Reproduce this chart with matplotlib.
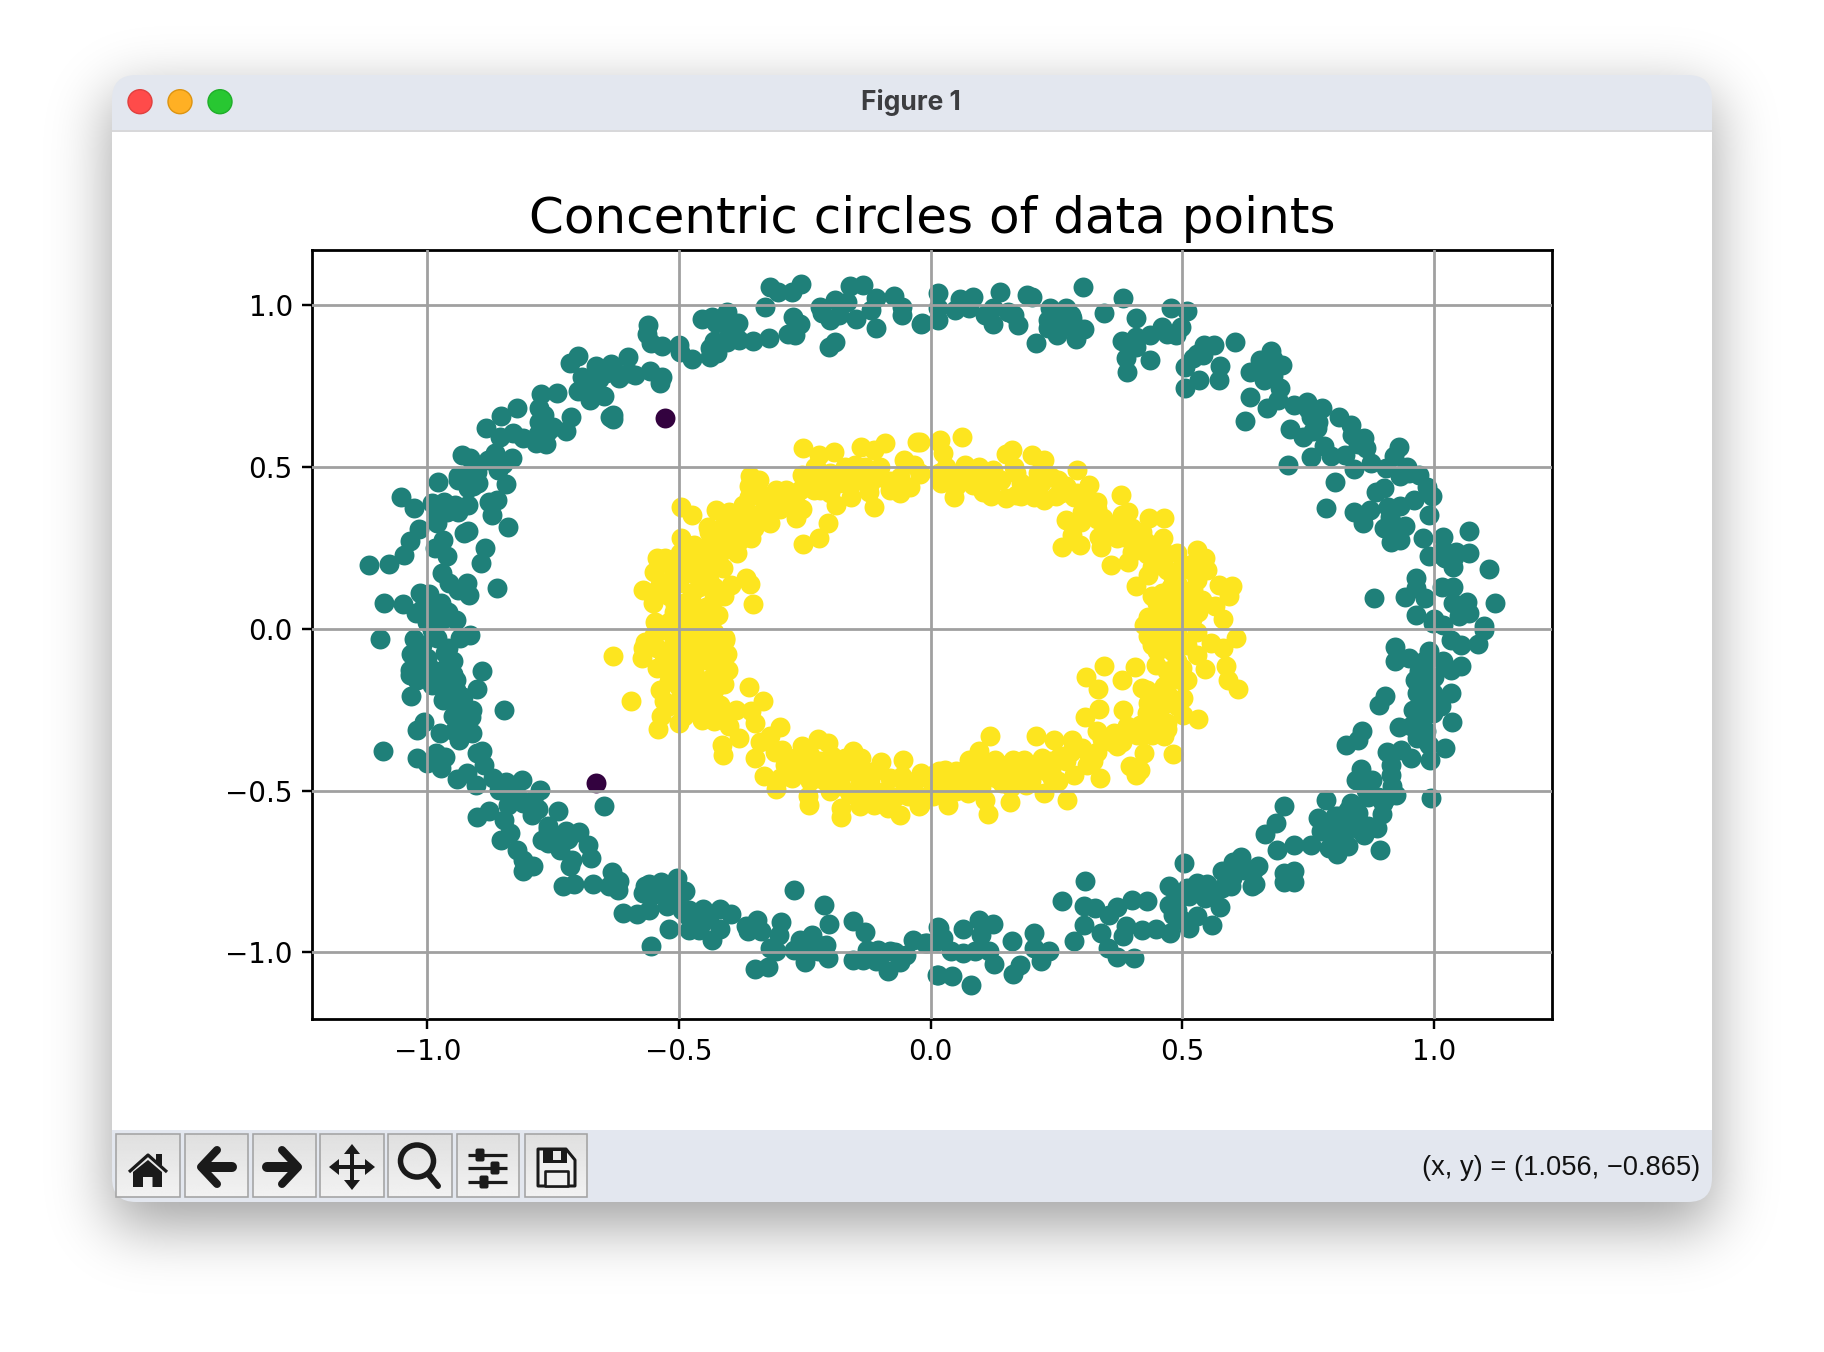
import math
import numpy as np
import matplotlib
matplotlib.use("Agg")
import matplotlib.pyplot as plt
from matplotlib.patches import FancyBboxPatch, Rectangle, Polygon, Ellipse

# ---------------------- data ----------------------
ring_upper_left = [
(-0.257,1.064),(-0.319,1.057),(-0.276,1.041),(-0.304,1.041),(-0.330,0.995),(-0.161,1.060),(-0.135,1.062),(-0.189,1.015),
(-0.219,0.995),(-0.166,1.010),(-0.199,0.954),(-0.215,0.974),(-0.182,0.969),(-0.109,1.021),(-0.118,0.985),(-0.148,0.956),
(-0.108,0.930),(-0.073,1.028),(-0.057,0.995),(-0.057,0.969),(-0.020,0.941),(-0.405,0.979),(-0.455,0.956),(-0.434,0.964),
(-0.427,0.943),(-0.383,0.943),(-0.381,0.892),(-0.401,0.907),(-0.405,0.887),(-0.353,0.889),(-0.322,0.897),(-0.284,0.910),
(-0.269,0.907),(-0.259,0.941),(-0.273,0.962),(-0.189,0.886),(-0.201,0.869),(-0.562,0.938),(-0.563,0.909),(-0.555,0.884),
(-0.533,0.874),(-0.500,0.876),(-0.499,0.856),(-0.474,0.832),(-0.438,0.840),(-0.424,0.853),(-0.438,0.866),(-0.700,0.843),
(-0.716,0.822),(-0.665,0.812),(-0.636,0.818),(-0.602,0.840),(-0.693,0.777),(-0.669,0.784),(-0.645,0.789),(-0.620,0.773),
(-0.588,0.784),(-0.558,0.797),(-0.533,0.779),(-0.537,0.758),(-0.700,0.734),(-0.677,0.706),(-0.649,0.719),(-0.669,0.758),
(-0.774,0.725),(-0.743,0.727),(-0.778,0.683),(-0.768,0.660),(-0.778,0.640),(-0.774,0.614),(-0.750,0.624),(-0.724,0.612),
(-0.715,0.655),(-0.821,0.681),(-0.854,0.658),(-0.884,0.621),(-0.855,0.591),(-0.829,0.604),(-0.811,0.588),(-0.784,0.573),
(-0.764,0.571),(-0.632,0.660),(-0.638,0.655),(-0.632,0.647),(-0.932,0.537),(-0.916,0.526),(-0.866,0.544),(-0.831,0.526),
(-0.855,0.516),(-0.859,0.490),(-0.843,0.447),(-0.940,0.472),(-0.920,0.475),(-0.902,0.485),(-0.900,0.449),(-0.920,0.434),
(-0.978,0.452),(-1.052,0.408),(-1.027,0.374),(-0.991,0.387),(-0.967,0.392),(-0.946,0.382),(-0.920,0.382),(-0.961,0.361),
(-0.981,0.327),(-1.017,0.307),(-1.034,0.272),(-1.047,0.228),(-1.076,0.200),(-1.117,0.197),(-0.969,0.274),(-0.928,0.295),
(-0.919,0.302),(-0.985,0.248),(-0.961,0.225),(-0.886,0.248),(-0.893,0.202),(-0.878,0.392),(-0.862,0.398),(-0.871,0.351),
(-0.839,0.315),(-0.971,0.171),(-0.957,0.140),(-0.940,0.119),(-0.922,0.140),(-0.918,0.104),(-0.862,0.127),(-1.015,0.111),
(-0.997,0.107),(-1.086,0.078),(-1.048,0.076),(-0.973,0.080),(-0.989,0.068),(-1.023,0.047),(-1.001,0.022),(-0.944,0.027),
(-0.991,-0.004),(-0.98,0.05),(-1.00,0.04),(-0.97,0.03),(-1.01,0.06),(-0.96,0.05),(-0.94,0.36),(-0.98,0.35),
(-0.94,0.46),(-0.96,0.37),(-0.91,0.44),(-0.85,0.51),(-0.88,0.52),(-0.78,0.60),(-0.76,0.61),(-0.69,0.74),
(-0.68,0.76),(-0.66,0.77),(-0.63,0.80),(-0.60,0.79),(-0.40,0.94),(-0.39,0.92),(-0.43,0.89),
]
ring_lower_left = [
(-1.094,-0.032),(-1.026,-0.032),(-0.985,-0.024),(-0.936,-0.029),(-0.916,-0.018),(-1.032,-0.077),(-0.965,-0.075),(-1.034,-0.127),
(-1.021,-0.111),(-0.961,-0.116),(-0.989,-0.127),(-1.035,-0.142),(-0.973,-0.147),(-0.944,-0.158),(-0.991,-0.173),(-0.892,-0.131),
(-0.902,-0.185),(-0.944,-0.188),(-1.032,-0.209),(-0.969,-0.221),(-0.944,-0.224),(-0.928,-0.250),(-0.911,-0.250),(-0.913,-0.273),
(-0.847,-0.250),(-1.007,-0.289),(-1.021,-0.314),(-0.975,-0.322),(-0.948,-0.315),(-0.938,-0.343),(-0.912,-0.322),(-0.928,-0.312),
(-1.088,-0.379),(-1.021,-0.400),(-0.983,-0.384),(-0.965,-0.396),(-0.973,-0.430),(-1.000,-0.415),(-0.892,-0.377),(-0.902,-0.384),
(-0.888,-0.420),(-0.941,-0.464),(-0.921,-0.446),(-0.904,-0.482),(-0.869,-0.461),(-0.843,-0.475),(-0.813,-0.467),(-0.857,-0.497),
(-0.777,-0.499),(-0.830,-0.508),(-0.839,-0.544),(-0.877,-0.562),(-0.901,-0.583),(-0.811,-0.539),(-0.780,-0.557),(-0.793,-0.575),
(-0.741,-0.563),(-0.650,-0.549),(-0.847,-0.590),(-0.835,-0.631),(-0.853,-0.654),(-0.760,-0.611),(-0.725,-0.624),(-0.699,-0.627),
(-0.772,-0.652),(-0.761,-0.662),(-0.737,-0.683),(-0.681,-0.667),(-0.822,-0.683),(-0.811,-0.714),(-0.790,-0.734),(-0.810,-0.750),
(-0.713,-0.714),(-0.717,-0.732),(-0.675,-0.709),(-0.730,-0.794),(-0.709,-0.788),(-0.671,-0.789),(-0.634,-0.752),(-0.620,-0.781),
(-0.640,-0.794),(-0.622,-0.808),(-0.567,-0.796),(-0.572,-0.817),(-0.535,-0.783),(-0.503,-0.770),(-0.519,-0.796),(-0.489,-0.811),
(-0.612,-0.878),(-0.584,-0.881),(-0.559,-0.870),(-0.555,-0.827),(-0.523,-0.858),(-0.519,-0.928),(-0.555,-0.981),(-0.495,-0.868),
(-0.482,-0.889),(-0.480,-0.930),(-0.452,-0.866),(-0.418,-0.866),(-0.396,-0.882),(-0.454,-0.909),(-0.418,-0.928),(-0.434,-0.961),
(-0.367,-0.920),(-0.345,-0.901),(-0.363,-0.935),(-0.337,-0.935),(-0.298,-0.907),(-0.302,-0.945),(-0.320,-0.987),(-0.308,-0.997),
(-0.272,-0.806),(-0.211,-0.853),(-0.201,-0.911),(-0.154,-0.904),(-0.131,-0.938),(-0.259,-0.961),(-0.235,-0.945),(-0.207,-0.976),
(-0.272,-0.992),(-0.247,-0.997),(-0.223,-0.997),(-0.203,-1.018),(-0.249,-1.031),(-0.324,-1.045),(-0.349,-1.053),(-0.154,-1.023),
(-0.134,-1.023),(-0.126,-0.992),(-0.105,-0.992),(-0.109,-1.028),(-0.081,-0.997),(-0.084,-1.057),(-0.061,-1.031),(-0.049,-1.007),
(-0.035,-0.963),(-0.008,-0.971),(0.016,-0.925),(0.012,-0.966),(0.012,-1.069),(-1.01,-0.05),(-1.00,-0.09),(-0.98,-0.03),
(-1.02,-0.16),(-1.00,-0.13),(-0.98,-0.17),(-0.96,-0.06),(-0.95,-0.10),(-0.95,-0.14),(-1.02,-0.08),(-0.96,-0.19),
(-0.93,-0.21),(-0.92,-0.28),(-0.93,-0.30),(-0.95,-0.27),(-0.82,-0.52),(-0.79,-0.53),(-0.76,-0.62),(-0.74,-0.64),
(-0.72,-0.65),(-0.55,-0.81),(-0.53,-0.82),(-0.56,-0.79),(-0.51,-0.84),(-0.48,-0.87),(-0.46,-0.89),(-0.44,-0.89),
(-0.46,-0.93),(-0.23,-0.97),(-0.25,-0.98),(-0.24,-0.96),(-0.10,-1.01),(-0.07,-1.00),
]
ring_upper_right = [
(0.015,1.038),(0.014,0.990),(0.015,0.954),(-0.017,0.943),(0.048,0.985),(0.058,1.020),(0.084,1.026),(0.076,0.990),
(0.137,1.039),(0.125,0.990),(0.108,0.969),(0.125,0.941),(0.153,0.979),(0.173,0.938),(0.165,0.969),(0.191,1.031),
(0.202,1.026),(0.210,0.882),(0.238,0.990),(0.270,0.990),(0.234,0.954),(0.258,0.954),(0.282,0.959),(0.234,0.928),
(0.252,0.907),(0.288,0.894),(0.304,0.925),(0.282,0.933),(0.302,1.057),(0.345,0.974),(0.383,1.023),(0.408,0.959),
(0.478,0.992),(0.509,0.982),(0.497,0.933),(0.487,0.907),(0.460,0.933),(0.436,0.907),(0.408,0.902),(0.380,0.889),
(0.408,0.871),(0.388,0.835),(0.436,0.830),(0.390,0.794),(0.543,0.876),(0.564,0.876),(0.604,0.887),(0.541,0.847),
(0.521,0.836),(0.505,0.809),(0.576,0.812),(0.533,0.768),(0.574,0.768),(0.505,0.743),(0.676,0.858),(0.655,0.831),
(0.681,0.833),(0.699,0.815),(0.634,0.792),(0.663,0.768),(0.695,0.745),(0.635,0.715),(0.669,0.683),(0.691,0.706),
(0.722,0.691),(0.749,0.701),(0.778,0.681),(0.756,0.655),(0.768,0.619),(0.625,0.643),(0.715,0.617),(0.741,0.593),
(0.811,0.655),(0.835,0.629),(0.838,0.598),(0.862,0.588),(0.782,0.564),(0.756,0.529),(0.795,0.533),(0.823,0.537),
(0.865,0.557),(0.711,0.506),(0.841,0.492),(0.875,0.513),(0.930,0.562),(0.921,0.533),(0.905,0.495),(0.946,0.498),
(0.932,0.472),(0.970,0.475),(0.804,0.452),(0.885,0.423),(0.901,0.434),(0.986,0.439),(0.997,0.410),(0.960,0.398),
(0.786,0.372),(0.841,0.361),(0.873,0.367),(0.859,0.327),(0.909,0.377),(0.932,0.379),(0.913,0.346),(0.990,0.351),
(0.942,0.318),(0.901,0.310),(0.916,0.269),(0.932,0.274),(0.978,0.281),(1.018,0.284),(1.070,0.302),(0.990,0.225),
(1.018,0.243),(1.045,0.238),(1.071,0.233),(1.023,0.217),(1.039,0.192),(1.109,0.183),(0.964,0.156),(1.017,0.130),
(1.039,0.130),(0.881,0.096),(0.942,0.099),(0.982,0.094),(0.964,0.125),(0.964,0.042),(1.039,0.078),(1.067,0.083),
(1.071,0.047),(1.121,0.078),(1.100,0.008),(0.998,0.016),(1.019,0.011),(0.28,0.97),(0.25,0.97),(0.26,0.93),
(0.29,0.93),(0.47,0.91),(0.53,0.85),(0.66,0.80),(0.68,0.78),(0.75,0.68),(0.77,0.64),(0.76,0.61),
(0.85,0.57),(0.95,0.48),(0.92,0.32),(0.92,0.30),(1.02,0.22),(1.04,0.22),(1.00,0.03),(1.05,0.04),
]
ring_lower_right = [
(1.035,-0.034),(1.055,-0.049),(1.087,-0.047),(1.100,-0.003),(0.922,-0.057),(0.922,-0.101),(0.950,-0.091),(0.990,-0.070),
(1.019,-0.101),(1.055,-0.114),(1.035,-0.127),(0.962,-0.158),(0.994,-0.158),(0.966,-0.199),(1.035,-0.199),(0.904,-0.209),
(0.891,-0.235),(0.998,-0.199),(0.958,-0.250),(0.998,-0.260),(1.015,-0.240),(1.036,-0.287),(0.930,-0.304),(0.954,-0.302),
(0.985,-0.317),(0.966,-0.338),(0.990,-0.358),(1.023,-0.369),(0.857,-0.317),(0.850,-0.345),(0.825,-0.358),(0.907,-0.381),
(0.935,-0.376),(0.954,-0.400),(0.992,-0.405),(0.916,-0.420),(0.916,-0.451),(0.856,-0.434),(0.845,-0.467),(0.877,-0.467),
(0.917,-0.487),(0.865,-0.497),(0.924,-0.513),(0.906,-0.523),(0.994,-0.523),(0.786,-0.528),(0.836,-0.539),(0.898,-0.572),
(0.703,-0.549),(0.687,-0.600),(0.665,-0.633),(0.770,-0.585),(0.804,-0.580),(0.845,-0.590),(0.888,-0.616),(0.776,-0.626),
(0.820,-0.621),(0.861,-0.636),(0.688,-0.683),(0.723,-0.667),(0.756,-0.667),(0.792,-0.678),(0.829,-0.672),(0.808,-0.695),
(0.893,-0.683),(0.503,-0.724),(0.617,-0.705),(0.602,-0.721),(0.650,-0.732),(0.622,-0.745),(0.579,-0.750),(0.703,-0.755),
(0.722,-0.750),(0.702,-0.784),(0.722,-0.784),(0.638,-0.796),(0.645,-0.788),(0.598,-0.796),(0.529,-0.786),(0.474,-0.796),
(0.565,-0.811),(0.545,-0.832),(0.513,-0.827),(0.576,-0.860),(0.474,-0.855),(0.307,-0.781),(0.261,-0.840),(0.305,-0.856),
(0.327,-0.863),(0.400,-0.839),(0.430,-0.840),(0.371,-0.861),(0.355,-0.884),(0.481,-0.884),(0.529,-0.889),(0.560,-0.915),
(0.513,-0.925),(0.305,-0.917),(0.339,-0.940),(0.285,-0.964),(0.388,-0.920),(0.383,-0.949),(0.420,-0.930),(0.448,-0.927),
(0.475,-0.940),(0.353,-0.987),(0.370,-1.014),(0.404,-1.018),(0.015,-0.923),(0.024,-0.956),(-0.011,-0.971),(0.064,-0.927),
(0.096,-0.899),(0.125,-0.914),(0.100,-0.946),(0.040,-0.997),(0.064,-1.002),(0.088,-0.997),(0.116,-0.997),(0.126,-1.036),
(0.162,-0.964),(0.205,-0.940),(0.205,-0.987),(0.236,-0.997),(0.219,-1.028),(0.177,-1.038),(0.163,-1.066),(0.014,-1.069),
(0.042,-1.072),(0.080,-1.100),(0.90,-0.54),(0.87,-0.52),(0.83,-0.56),(0.85,-0.57),(0.81,-0.58),(0.83,-0.60),
(0.80,-0.63),(0.82,-0.65),(0.80,-0.60),(0.85,-0.62),(0.87,-0.61),(0.89,-0.52),(0.98,-0.10),(0.97,-0.13),
(0.98,-0.22),(0.98,-0.27),(0.98,-0.12),(1.00,-0.15),(0.97,-0.18),(0.99,-0.24),(0.98,-0.34),(0.58,-0.80),
(0.60,-0.77),(0.62,-0.74),(0.64,-0.75),(0.55,-0.79),(0.51,-0.80),(0.49,-0.83),(0.49,-0.87),(0.50,-0.90),
]
inner_upper_left = [
(-0.253,0.557),(-0.221,0.537),(-0.191,0.546),(-0.139,0.560),(-0.091,0.575),(-0.028,0.576),(0.016,0.578),(-0.113,0.552),
(-0.150,0.506),(-0.227,0.501),(-0.255,0.475),(-0.199,0.480),(-0.126,0.480),(-0.053,0.521),(-0.032,0.506),(-0.022,0.478),
(-0.081,0.457),(-0.041,0.439),(-0.061,0.418),(-0.158,0.408),(-0.122,0.423),(-0.113,0.377),(-0.188,0.382),(-0.204,0.327),
(-0.222,0.279),(-0.253,0.262),(-0.267,0.341),(-0.255,0.369),(-0.359,0.472),(-0.341,0.459),(-0.288,0.428),(-0.308,0.428),
(-0.361,0.408),(-0.373,0.382),(-0.320,0.392),(-0.280,0.387),(-0.232,0.428),(-0.182,0.449),(-0.320,0.325),(-0.381,0.325),
(-0.357,0.279),(-0.384,0.233),(-0.427,0.367),(-0.497,0.377),(-0.474,0.350),(-0.497,0.281),(-0.442,0.315),(-0.409,0.295),
(-0.421,0.228),(-0.543,0.217),(-0.527,0.217),(-0.499,0.233),(-0.549,0.176),(-0.454,0.186),(-0.413,0.186),(-0.514,0.156),
(-0.572,0.119),(-0.531,0.130),(-0.397,0.135),(-0.367,0.156),(-0.358,0.138),(-0.353,0.075),(-0.474,0.109),(-0.430,0.094),
(-0.551,0.078),(-0.507,0.073),(-0.446,0.068),(-0.547,0.022),(-0.422,0.042),(-0.482,0.032),(-0.462,0.016),(-0.442,0.006),
(-0.531,-0.004),(-0.567,-0.040),(-0.409,-0.030),(-0.46,0.05),(-0.50,0.02),(-0.46,0.13),(-0.49,0.19),(-0.46,0.25),
(-0.43,0.27),(-0.38,0.30),(-0.35,0.35),(-0.33,0.38),(-0.30,0.40),(-0.25,0.44),(-0.21,0.45),(-0.16,0.47),
(-0.10,0.50),(-0.40,0.25),(-0.44,0.15),(-0.52,0.20),(-0.50,0.14),(-0.48,0.21),(-0.45,0.22),(-0.43,0.20),
(-0.47,0.17),(-0.52,0.10),(-0.49,0.08),(-0.54,0.13),(-0.51,0.05),(-0.47,0.07),(-0.43,0.13),(-0.41,0.10),
(-0.44,0.03),(-0.48,-0.01),(-0.52,0.02),(-0.47,0.26),(-0.44,0.30),(-0.41,0.32),(-0.38,0.27),(-0.40,0.36),
(-0.37,0.35),(-0.35,0.31),(-0.34,0.42),(-0.36,0.44),(-0.32,0.36),(-0.30,0.37),(-0.29,0.41),(-0.27,0.39),
(-0.26,0.43),(-0.24,0.47),(-0.22,0.43),(-0.20,0.42),(-0.18,0.47),(-0.16,0.44),(-0.14,0.46),(-0.12,0.45),
(-0.10,0.47),(-0.17,0.50),(-0.23,0.50),(-0.13,0.50),(-0.06,0.47),(-0.08,0.43),
]
inner_lower_left = [
(-0.535,-0.003),(-0.572,-0.060),(-0.573,-0.091),(-0.632,-0.083),(-0.543,-0.060),(-0.543,-0.121),(-0.519,-0.065),(-0.474,-0.034),
(-0.442,-0.034),(-0.409,-0.034),(-0.405,-0.077),(-0.403,-0.127),(-0.458,-0.096),(-0.486,-0.137),(-0.442,-0.158),(-0.425,-0.116),
(-0.361,-0.180),(-0.519,-0.163),(-0.537,-0.190),(-0.595,-0.225),(-0.529,-0.225),(-0.474,-0.199),(-0.438,-0.214),(-0.418,-0.235),
(-0.535,-0.271),(-0.541,-0.310),(-0.519,-0.240),(-0.454,-0.281),(-0.430,-0.286),(-0.387,-0.250),(-0.333,-0.222),(-0.356,-0.255),
(-0.348,-0.291),(-0.300,-0.305),(-0.320,-0.333),(-0.381,-0.338),(-0.415,-0.358),(-0.412,-0.389),(-0.348,-0.400),(-0.296,-0.374),
(-0.255,-0.364),(-0.224,-0.341),(-0.203,-0.353),(-0.154,-0.377),(-0.138,-0.400),(-0.099,-0.413),(-0.054,-0.405),(-0.332,-0.456),
(-0.308,-0.494),(-0.276,-0.461),(-0.235,-0.436),(-0.195,-0.394),(-0.199,-0.446),(-0.162,-0.441),(-0.243,-0.518),(-0.241,-0.544),
(-0.178,-0.487),(-0.178,-0.554),(-0.178,-0.583),(-0.140,-0.549),(-0.113,-0.544),(-0.130,-0.497),(-0.085,-0.554),(-0.061,-0.575),
(-0.024,-0.549),(-0.057,-0.456),(-0.020,-0.446),(0.016,-0.441),(-0.045,-0.518),(0.004,-0.518),(-0.47,-0.08),(-0.44,-0.10),
(-0.50,-0.05),(-0.48,-0.17),(-0.45,-0.20),(-0.43,-0.06),(-0.50,-0.11),(-0.47,-0.25),(-0.34,-0.35),(-0.29,-0.42),
(-0.24,-0.47),(-0.20,-0.50),(-0.12,-0.47),(-0.09,-0.50),(-0.55,-0.02),(-0.51,-0.03),(-0.46,-0.03),(-0.43,-0.01),
(-0.53,-0.08),(-0.49,-0.08),(-0.45,-0.07),(-0.42,-0.09),(-0.52,-0.13),(-0.47,-0.13),(-0.43,-0.15),(-0.41,-0.17),
(-0.50,-0.18),(-0.46,-0.17),(-0.50,-0.22),(-0.46,-0.23),(-0.43,-0.19),(-0.49,-0.27),(-0.45,-0.26),(-0.41,-0.27),
(-0.50,-0.29),(-0.40,-0.30),(-0.31,-0.38),(-0.27,-0.40),(-0.24,-0.39),(-0.22,-0.41),(-0.19,-0.42),(-0.17,-0.40),
(-0.15,-0.42),(-0.13,-0.44),(-0.11,-0.44),(-0.08,-0.46),(-0.05,-0.49),(-0.03,-0.47),(0.00,-0.47),(-0.02,-0.52),
(-0.07,-0.52),(-0.11,-0.51),(-0.16,-0.51),(-0.14,-0.47),(-0.22,-0.44),(-0.26,-0.43),(-0.30,-0.46),(-0.21,-0.47),
(-0.18,-0.45),
]
inner_upper_right = [
(-0.021,0.578),(0.019,0.583),(0.062,0.593),(0.024,0.542),(0.016,0.480),(0.020,0.449),(0.046,0.408),(0.068,0.506),
(0.096,0.500),(0.084,0.444),(0.104,0.423),(-0.021,0.480),(0.125,0.490),(0.161,0.552),(0.149,0.541),(0.202,0.537),
(0.226,0.521),(0.165,0.500),(0.214,0.480),(0.149,0.403),(0.169,0.413),(0.205,0.408),(0.226,0.398),(0.254,0.459),
(0.291,0.490),(0.315,0.444),(0.331,0.392),(0.286,0.408),(0.378,0.413),(0.270,0.336),(0.299,0.331),(0.343,0.341),
(0.392,0.362),(0.434,0.341),(0.464,0.341),(0.378,0.315),(0.282,0.289),(0.261,0.253),(0.296,0.258),(0.335,0.284),
(0.339,0.253),(0.384,0.284),(0.428,0.269),(0.461,0.279),(0.359,0.197),(0.392,0.207),(0.400,0.238),(0.489,0.233),
(0.460,0.207),(0.529,0.243),(0.546,0.217),(0.550,0.181),(0.517,0.181),(0.432,0.166),(0.408,0.132),(0.481,0.161),
(0.477,0.130),(0.521,0.119),(0.574,0.135),(0.600,0.132),(0.594,0.101),(0.440,0.101),(0.566,0.071),(0.582,0.030),
(0.532,0.053),(0.464,0.068),(0.489,0.078),(0.432,0.037),(0.424,0.011),(0.464,0.016),(0.505,0.027),(0.05,0.47),
(0.11,0.47),(0.18,0.45),(0.25,0.41),(0.33,0.34),(0.41,0.29),(0.50,0.12),(0.51,0.07),(0.03,0.50),
(0.05,0.44),(0.07,0.46),(0.09,0.49),(0.12,0.44),(0.14,0.46),(0.17,0.48),(0.19,0.44),(0.22,0.45),
(0.24,0.47),(0.27,0.44),(0.29,0.42),(0.31,0.40),(0.33,0.37),(0.26,0.42),(0.18,0.41),(0.12,0.41),
(0.30,0.36),(0.35,0.32),(0.38,0.35),(0.37,0.28),(0.40,0.31),(0.42,0.30),(0.41,0.25),(0.43,0.23),
(0.45,0.25),(0.47,0.23),(0.47,0.18),(0.44,0.19),(0.50,0.19),(0.52,0.20),(0.49,0.14),(0.46,0.11),
(0.53,0.15),(0.45,0.08),(0.50,0.04),(0.47,0.04),(0.44,0.03),(0.54,0.09),(0.52,0.03),
]
inner_lower_right = [
(0.432,-0.024),(0.464,-0.044),(0.497,-0.034),(0.529,-0.080),(0.557,-0.044),(0.582,-0.060),(0.606,-0.029),(0.587,-0.116),
(0.545,-0.125),(0.591,-0.160),(0.610,-0.187),(0.448,-0.111),(0.406,-0.119),(0.345,-0.114),(0.309,-0.149),(0.380,-0.158),
(0.333,-0.186),(0.420,-0.183),(0.464,-0.178),(0.497,-0.158),(0.501,-0.214),(0.383,-0.250),(0.335,-0.248),(0.307,-0.273),
(0.432,-0.230),(0.501,-0.266),(0.532,-0.279),(0.456,-0.276),(0.416,-0.297),(0.464,-0.333),(0.481,-0.386),(0.424,-0.384),
(0.331,-0.317),(0.364,-0.322),(0.371,-0.361),(0.282,-0.343),(0.210,-0.333),(0.246,-0.343),(0.119,-0.333),(0.096,-0.379),
(0.076,-0.405),(0.129,-0.405),(0.163,-0.405),(0.185,-0.405),(0.222,-0.400),(0.258,-0.394),(0.315,-0.389),(0.323,-0.410),
(0.397,-0.425),(0.416,-0.436),(0.408,-0.451),(0.337,-0.461),(0.286,-0.451),(0.242,-0.461),(0.254,-0.472),(0.029,-0.436),
(0.011,-0.446),(-0.017,-0.451),(0.060,-0.472),(0.096,-0.456),(0.141,-0.477),(0.189,-0.482),(0.173,-0.456),(0.226,-0.508),
(0.271,-0.528),(0.157,-0.537),(0.108,-0.528),(0.115,-0.573),(0.074,-0.508),(0.034,-0.544),(0.003,-0.508),(-0.021,-0.544),
(0.45,-0.07),(0.49,-0.10),(0.46,-0.24),(0.42,-0.33),(0.38,-0.35),(0.31,-0.42),(0.20,-0.44),(0.12,-0.45),
(0.05,-0.50),(0.46,-0.01),(0.49,-0.01),(0.53,-0.01),(0.44,-0.05),(0.48,-0.07),(0.51,-0.05),(0.50,-0.12),
(0.47,-0.13),(0.51,-0.16),(0.47,-0.20),(0.43,-0.19),(0.49,-0.24),(0.45,-0.22),(0.43,-0.26),(0.47,-0.29),
(0.45,-0.30),(0.44,-0.33),(0.47,-0.31),(0.41,-0.33),(0.39,-0.30),(0.36,-0.35),(0.34,-0.34),(0.33,-0.38),
(0.30,-0.37),(0.28,-0.38),(0.27,-0.41),(0.24,-0.41),(0.23,-0.44),(0.21,-0.43),(0.19,-0.43),(0.16,-0.44),
(0.14,-0.42),(0.12,-0.42),(0.10,-0.43),(0.08,-0.45),(0.05,-0.44),(0.03,-0.47),(0.02,-0.50),(0.07,-0.48),
(0.10,-0.49),(0.13,-0.46),(0.16,-0.49),(0.20,-0.47),(0.24,-0.44),
]
outliers = [(-0.527,0.652),(-0.665,-0.477)]

tick_values = [-1.0, -0.5, 0.0, 0.5, 1.0]
title_text = "Concentric circles of data points"
window_title = "Figure 1"
status_text = "(x, y) = (1.056, \u22120.865)"

# ---------------------- figure and window chrome ----------------------
W, H = 1824, 1352
DPI = 250
fig = plt.figure(figsize=(W / DPI, H / DPI), dpi=DPI, facecolor="white")
px = 72.0 / DPI  # one pixel in points

chrome = fig.add_axes([0, 0, 1, 1], zorder=0)
chrome.axis("off")

# drop shadow
erf = np.vectorize(math.erf)
def edge(c, a, b, s):
    return 0.5 * (erf((c - a) / (s * math.sqrt(2))) - erf((c - b) / (s * math.sqrt(2))))
xs = np.arange(W) + 0.5
ys = np.arange(H) + 0.5
alpha = 0.38 * np.outer(edge(ys, 95, 1225, 30), edge(xs, 112, 1712, 30))
shadow = np.zeros((H, W, 4))
shadow[..., 3] = alpha
chrome.imshow(shadow, extent=(0, W, H, 0), aspect="auto", interpolation="bilinear", zorder=1)

# window body
chrome.add_patch(FancyBboxPatch((112 + 24, 75 + 24), 1600 - 48, 1127 - 48,
                                boxstyle="round,pad=24,rounding_size=24",
                                fc="#e3e7ef", ec="none", zorder=2))
chrome.add_patch(Rectangle((112, 131), 1600, 999, fc="white", ec="none", zorder=3))
chrome.add_patch(Rectangle((112, 130), 1600, 1.6, fc="#d8d8da", ec="none", zorder=3))

for cx, col, e in [(140, "#ff4b4a", "#e0403e"), (180, "#ffb024", "#dd9410"), (220, "#28c732", "#1fae29")]:
    chrome.add_patch(Ellipse((cx, 101.7), 24, 24, fc=col, ec=e, lw=0.4, zorder=4))
chrome.text(911, 103, window_title, ha="center", va="center", fontsize=7.6,
            fontweight="bold", family="Inter", color="#3c3d40", zorder=4)
chrome.text(1700, 1168, status_text, ha="right", va="center", fontsize=7.85,
            family="Liberation Sans", color="#111111", zorder=4)

# toolbar buttons
button_edges = [(116, 180), (185, 247.5), (252.5, 316), (320, 384), (388, 451.5), (456.6, 519.4), (524.5, 587)]
grad = np.linspace(0.875, 0.95, 64).reshape(-1, 1)
for a, b in button_edges:
    chrome.imshow(grad, extent=(a, b, 1197, 1134), aspect="auto", cmap="gray", vmin=0, vmax=1, zorder=4)
    chrome.add_patch(Rectangle((a, 1134), b - a, 63, fc="none", ec="#a3a3a3", lw=1.6 * px, zorder=5))

ink = "#1a1a1a"
def poly(pts, fc=ink, ec="none", lw=0.0, z=6):
    chrome.add_patch(Polygon(pts, closed=True, fc=fc, ec=ec, lw=lw * px, zorder=z, joinstyle="round"))
def line(xx, yy, w, z=6, cap="round", col=ink):
    chrome.plot(xx, yy, color=col, lw=w * px, solid_capstyle=cap, solid_joinstyle="round", zorder=z)

# home
line([129, 148, 167], [1172, 1155, 1172], 3.2, cap="butt")
poly([(133, 1172), (148, 1160), (162, 1172), (162, 1187), (152.5, 1187), (152.5, 1177), (143, 1177), (143, 1187), (133, 1187)])
poly([(156, 1154), (162, 1154), (162, 1166), (156, 1161)])
# back / forward
line([217, 201, 217], [1150, 1167, 1184], 8)
line([203, 232], [1167, 1167], 10)
line([282, 298, 282], [1150, 1167, 1184], 8)
line([267, 296], [1167, 1167], 10)
# pan
line([352, 352], [1148, 1186], 4, cap="butt")
line([333, 371], [1167, 1167], 4, cap="butt")
poly([(352, 1144), (360, 1154), (344, 1154)])
poly([(352, 1190), (360, 1180), (344, 1180)])
poly([(329, 1167), (339, 1159), (339, 1175)])
poly([(375, 1167), (365, 1159), (365, 1175)])
# zoom
chrome.add_patch(Ellipse((417, 1161), 33, 32, fc="none", ec=ink, lw=5.5 * px, zorder=6))
line([429, 438], [1175, 1186], 6)
# sliders
for yy, kx in [(1155, 480), (1168, 495), (1182, 484)]:
    line([468, 507], [yy, yy], 3.2, cap="butt")
    chrome.add_patch(FancyBboxPatch((kx - 3, yy - 5), 6, 10, boxstyle="round,pad=1.5,rounding_size=2",
                                    fc=ink, ec="none", zorder=7))
# save
poly([(538, 1149), (566, 1149), (575, 1160), (575, 1186), (538, 1186)], fc="#f0f0f0", ec=ink, lw=3)
poly([(543, 1149), (567, 1149), (567, 1163), (543, 1163)])
poly([(553, 1151), (561, 1151), (561, 1160), (553, 1160)], fc="#ececec")
poly([(545, 1171), (568, 1171), (568, 1186), (545, 1186)], fc="#f0f0f0", ec=ink, lw=2.6)

chrome.set_xlim(0, W)
chrome.set_ylim(H, 0)

# ---------------------- the chart itself ----------------------
L, R, T, B = 312.2, 1552.0, 250.0, 1019.0
ax = fig.add_axes([L / W, 1 - B / H, (R - L) / W, (B - T) / H], zorder=2)
ring = np.array(ring_upper_left + ring_lower_left + ring_upper_right + ring_lower_right)
inner = np.array(inner_upper_left + inner_lower_left + inner_upper_right + inner_lower_right)
dark = np.array(outliers)
ax.scatter(ring[:, 0], ring[:, 1], s=33, color="#1f8079", linewidths=0, zorder=2)
ax.scatter(inner[:, 0], inner[:, 1], s=33, color="#fde51f", linewidths=0, zorder=2)
ax.scatter(dark[:, 0], dark[:, 1], s=33, color="#33023f", linewidths=0, zorder=2)
ax.set_xlim(-1.229, 1.235)
ax.set_ylim(-1.206, 1.170)
ax.set_xticks(tick_values)
ax.set_yticks(tick_values)
ax.tick_params(labelsize=8, length=2.8, width=0.7, pad=2.8)
ax.grid(True, color="#a0a0a0", lw=0.8, zorder=3)
ax.set_axisbelow(False)
ax.set_title(title_text, fontsize=14.4, pad=4.8)
fig.savefig("out.png", dpi=DPI)
